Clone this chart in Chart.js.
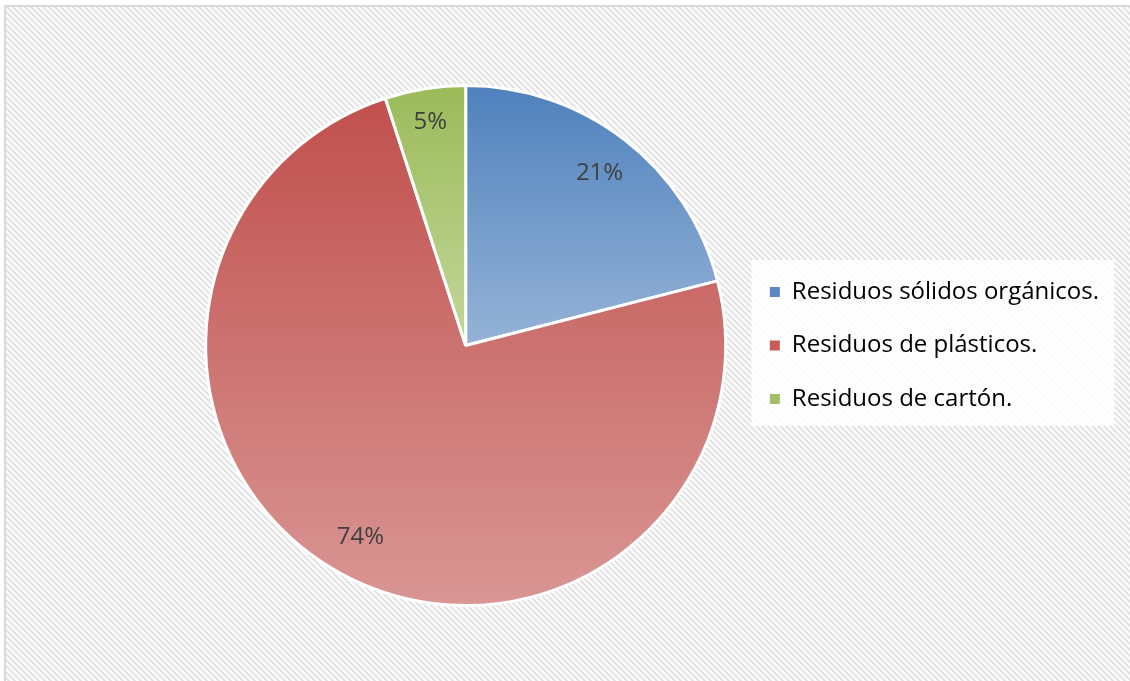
<!DOCTYPE html>
<html>
<head>
<meta charset="utf-8">
<script src="https://cdn.jsdelivr.net/npm/chart.js@4/dist/chart.umd.min.js"></script>
<style>
  html, body { margin: 0; padding: 0; background: #ffffff; }
  #wrap { position: absolute; left: 0; top: 0; width: 1130px; height: 681px; }
</style>
</head>
<body>
<div id="wrap"><canvas id="pieChart" width="1130" height="681"></canvas></div>
<script>
// data
const categories = ["Residuos sólidos orgánicos.", "Residuos de plásticos.", "Residuos de cartón."];
const shares = [21, 74, 5];
const percentLabels = ["21%", "74%", "5%"];

// top (dark) and bottom (light) colour of each slice gradient
const topColors = ["#4f81bd", "#c0504d", "#9bbb59"];
const bottomColors = ["#95b3d7", "#d99694", "#c3d69b"];
const legendColors = ["#5b88c4", "#c65b58", "#a3c066"];

const FONT = "'Open Sans', 'Noto Sans', sans-serif";

function hatchPattern(ctx) {
  const tile = document.createElement("canvas");
  tile.width = 6;
  tile.height = 6;
  const t = tile.getContext("2d");
  t.fillStyle = "#fbfbfb";
  t.fillRect(0, 0, 6, 6);
  t.strokeStyle = "#e0e0e0";
  t.lineWidth = 1.7;
  t.beginPath();
  t.moveTo(-1, -1); t.lineTo(7, 7);
  t.moveTo(-4, 2); t.lineTo(4, 10);
  t.moveTo(2, -4); t.lineTo(10, 4);
  t.stroke();
  return ctx.createPattern(tile, "repeat");
}

const backgroundPlugin = {
  id: "bg",
  beforeDraw(chart) {
    const ctx = chart.ctx;
    ctx.save();
    ctx.fillStyle = "#ffffff";
    ctx.fillRect(0, 0, chart.width, chart.height);
    ctx.fillStyle = hatchPattern(ctx);
    ctx.fillRect(6, 7, chart.width - 6, chart.height - 7);
    ctx.strokeStyle = "#d9d9d9";
    ctx.lineWidth = 2;
    ctx.beginPath();
    ctx.moveTo(5, chart.height);
    ctx.lineTo(5, 6);
    ctx.lineTo(chart.width, 6);
    ctx.stroke();
    // white box behind the legend
    const lg = chart.legend;
    if (lg) {
      ctx.fillStyle = "rgba(255,255,255,0.85)";
      ctx.fillRect(lg.left + 11, 260, 363, 166);
    }
    ctx.restore();
  }
};

// give every slice a vertical gradient over its own height
const gradientPlugin = {
  id: "sliceGradient",
  beforeDatasetsDraw(chart) {
    const ctx = chart.ctx;
    const meta = chart.getDatasetMeta(0);
    meta.data.forEach((arc, i) => {
      let yMin = arc.y, yMax = arc.y;
      for (let k = 0; k <= 60; k++) {
        const a = arc.startAngle + (arc.endAngle - arc.startAngle) * k / 60;
        const y = arc.y + Math.sin(a) * arc.outerRadius;
        yMin = Math.min(yMin, y);
        yMax = Math.max(yMax, y);
      }
      const g = ctx.createLinearGradient(0, yMin, 0, yMax);
      g.addColorStop(0, topColors[i]);
      g.addColorStop(1, bottomColors[i]);
      arc.options.backgroundColor = g;
    });
  }
};

const percentPlugin = {
  id: "percentLabels",
  afterDatasetsDraw(chart) {
    const ctx = chart.ctx;
    const meta = chart.getDatasetMeta(0);
    ctx.save();
    ctx.font = "24px " + FONT;
    ctx.fillStyle = "#404040";
    ctx.textAlign = "center";
    ctx.textBaseline = "middle";
    meta.data.forEach((arc, i) => {
      const mid = (arc.startAngle + arc.endAngle) / 2;
      const r = arc.outerRadius * (i === 2 ? 0.87 : 0.84);
      ctx.fillText(percentLabels[i], arc.x + Math.cos(mid) * r, arc.y + Math.sin(mid) * r);
    });
    ctx.restore();
  }
};

const ctx = document.getElementById("pieChart").getContext("2d");
new Chart(ctx, {
  type: "pie",
  data: {
    labels: categories,
    datasets: [{
      data: shares,
      backgroundColor: topColors,
      borderColor: "#ffffff",
      borderWidth: 3
    }]
  },
  options: {
    responsive: false,
    animation: false,
    layout: {
      padding: { left: 191, right: 21, top: 84, bottom: 74 }
    },
    plugins: {
      legend: {
        position: "right",
        labels: {
          boxWidth: 10,
          boxHeight: 10,
          padding: 29.5,
          color: "#595959",
          font: { family: FONT, size: 24 },
          generateLabels(chart) {
            return categories.map((c, i) => ({
              text: c,
              fillStyle: legendColors[i],
              strokeStyle: legendColors[i],
              lineWidth: 0,
              hidden: false,
              index: i
            }));
          }
        }
      },
      tooltip: { enabled: false }
    }
  },
  plugins: [backgroundPlugin, gradientPlugin, percentPlugin]
});
</script>
</body>
</html>
